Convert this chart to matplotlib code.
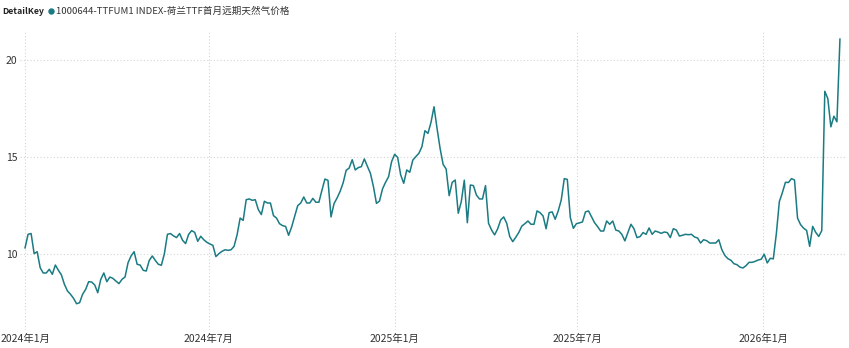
import matplotlib
matplotlib.use("Agg")
import matplotlib.pyplot as plt
import pandas as pd

plt.rcParams['font.family'] = ['Noto Sans CJK SC', 'DejaVu Sans']

# series: one reading every 3 days from 2024-01-01
start_date = '2024-01-01'
step = '3D'
series_name = '1000644-TTFUM1 INDEX-荷兰TTF首月远期天然气价格'

ttf_2024h1 = [
    10.3, 11.0, 11.04, 10.0, 10.1, 9.27, 9.0, 9.0, 9.19, 8.93,
    9.41, 9.14, 8.9, 8.41, 8.07, 7.9, 7.69, 7.41, 7.46, 7.9,
    8.15, 8.55, 8.53, 8.38, 7.98, 8.67, 9.0, 8.55, 8.79, 8.72,
    8.58, 8.45, 8.67, 8.79, 9.53, 9.88, 10.1, 9.45, 9.41, 9.14,
    9.1, 9.65, 9.88, 9.65, 9.45, 9.4, 10.0, 11.0, 11.04, 10.92,
    10.83, 11.04, 10.69, 10.52, 11.0,
]
ttf_2024h2 = [
    11.19, 11.1, 10.64, 10.9, 10.72, 10.59, 10.5, 10.43, 9.85, 10.0,
    10.12, 10.2, 10.17, 10.2, 10.38, 10.98, 11.84, 11.72, 12.79, 12.83,
    12.76, 12.79, 12.28, 12.02, 12.71, 12.62, 12.62, 11.97, 11.84, 11.55,
    11.45, 11.41, 10.95, 11.38, 11.93, 12.48, 12.62, 12.93, 12.62, 12.62,
    12.86, 12.66, 12.66, 13.28, 13.86, 13.79, 11.9, 12.59, 12.88, 13.22,
    13.66, 14.31, 14.43, 14.86,
]
ttf_2025h1 = [
    14.33, 14.45, 14.5, 14.9, 14.52, 14.16, 13.47, 12.6, 12.72, 13.35,
    13.69, 13.98, 14.76, 15.14, 14.98, 14.07, 13.64, 14.33, 14.21, 14.84,
    15.02, 15.19, 15.53, 16.36, 16.22, 16.79, 17.6, 16.48, 15.45, 14.62,
    14.38, 13.0, 13.69, 13.81, 12.09, 12.69, 13.8, 11.6, 13.55, 13.52,
    13.03, 12.83, 12.83, 13.52, 11.57, 11.22, 10.97, 11.28, 11.74, 11.9,
    11.57, 10.88, 10.62, 10.85, 11.1,
]
ttf_2025h2 = [
    11.43, 11.55, 11.69, 11.52, 11.52, 12.21, 12.12, 11.95, 11.29, 12.12,
    12.16, 11.78, 12.21, 12.78, 13.88, 13.84, 11.86, 11.31, 11.55, 11.59,
    11.64, 12.16, 12.21, 11.9, 11.6, 11.4, 11.17, 11.17, 11.69, 11.52,
    11.69, 11.22, 11.17, 11.0, 10.66, 11.09, 11.52, 11.29, 10.83, 10.88,
    11.09, 11.0, 11.33, 11.0, 11.17, 11.12, 11.05, 11.12, 11.09, 10.83,
    11.29, 11.22, 10.91, 10.95, 11.0,
]
ttf_2026 = [
    10.98, 11.0, 10.86, 10.81, 10.55, 10.72, 10.67, 10.55, 10.55, 10.55,
    10.72, 10.21, 9.91, 9.74, 9.66, 9.48, 9.43, 9.3, 9.26, 9.38,
    9.55, 9.55, 9.6, 9.67, 9.71, 9.97, 9.52, 9.76, 9.73, 11.03,
    12.7, 13.16, 13.69, 13.68, 13.88, 13.81, 11.84, 11.5, 11.32, 11.2,
    10.38, 11.41, 11.1, 10.89, 11.19, 18.4, 18.02, 16.56, 17.11, 16.82,
    21.1,
]
values = ttf_2024h1 + ttf_2024h2 + ttf_2025h1 + ttf_2025h2 + ttf_2026
dates = pd.date_range(start_date, periods=len(values), freq=step)

tick_dates = pd.to_datetime(['2024-01-01', '2024-07-01', '2025-01-01',
                             '2025-07-01', '2026-01-01'])
tick_labels = [f'{d.year}年{d.month}月' for d in tick_dates]
y_ticks = [10, 15, 20]

line_color = '#1a7b83'
text_color = '#333333'
grid_color = '#d4d4d4'

fig = plt.figure(figsize=(8.49, 3.48), dpi=100)
ax = fig.add_axes([20 / 849, 18 / 348, 825 / 849, 300 / 348])

ax.plot(dates, values, color=line_color, lw=1.1, solid_joinstyle='round')

ax.set_xlim(pd.Timestamp('2023-12-27'), pd.Timestamp('2026-03-23'))
ax.set_ylim(6.05, 21.57)

ax.set_xticks(tick_dates)
ax.set_xticklabels(tick_labels)
ax.set_yticks(y_ticks)
ax.tick_params(length=0, labelsize=7.5, colors=text_color, pad=3)
ax.tick_params(axis='y', pad=2)

ax.grid(True, color=grid_color, linestyle=(0, (1, 2)), lw=0.8)
ax.set_axisbelow(True)
for s in ax.spines.values():
    s.set_visible(False)

# legend row
fig.text(2 / 849, 1 - 11 / 348, 'DetailKey', fontsize=6.3, weight='bold',
         color='#222222', va='center', ha='left')
fig.lines.append(plt.Line2D([51 / 849], [1 - 11 / 348], marker='o', ms=3.6,
                            color=line_color, transform=fig.transFigure))
fig.text(56 / 849, 1 - 11 / 348, series_name, fontsize=6.9,
         color=text_color, va='center', ha='left')

fig.savefig('out.png', dpi=100)
